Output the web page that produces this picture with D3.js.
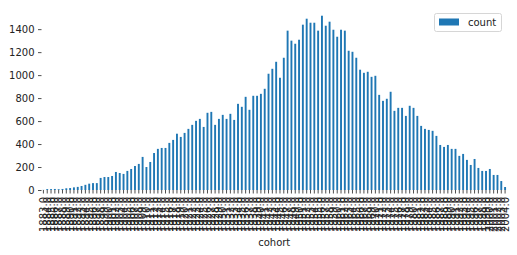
<!DOCTYPE html>
<html>
<head>
<meta charset="utf-8">
<script src="https://cdn.jsdelivr.net/npm/d3@7"></script>
<style>
  body { margin: 0; background: #fff; }
  text { font-family: "DejaVu Sans", sans-serif; }
</style>
</head>
<body>
<svg id="chart" width="517" height="255"></svg>
<script>
// cohort years (categories)
const cohorts = [
  1883, 1884, 1885, 1886, 1887, 1888, 1889, 1890, 1891, 1892, 1893, 1894, 1895, 1896, 1897, 1898, 1899,
  1900, 1901, 1902, 1903, 1904, 1905, 1906, 1907, 1908, 1909, 1910, 1911, 1912, 1913, 1914, 1915, 1916,
  1917, 1918, 1919, 1920, 1921, 1922, 1923, 1924, 1925, 1926, 1927, 1928, 1929, 1930, 1931, 1932, 1933,
  1934, 1935, 1936, 1937, 1938, 1939, 1940, 1941, 1942, 1943, 1944, 1945, 1946, 1947, 1948, 1949, 1950,
  1951, 1952, 1953, 1954, 1955, 1956, 1957, 1958, 1959, 1960, 1961, 1962, 1963, 1964, 1965, 1966, 1967,
  1968, 1969, 1970, 1971, 1972, 1973, 1974, 1975, 1976, 1977, 1978, 1979, 1980, 1981, 1982, 1983, 1984,
  1985, 1986, 1987, 1988, 1989, 1990, 1991, 1992, 1993, 1994, 1995, 1996, 1997, 1998, 1999, 2000, 2001,
  2002, 2003, 2004
];

// count per cohort
const counts = [
  1, 8, 8, 9, 7, 9, 15, 17, 23, 27, 35, 45, 55, 60, 60, 105, 113,
  113, 122, 157, 148, 140, 166, 183, 209, 227, 288, 200, 244, 322, 358, 366, 366, 410,
  436, 490, 462, 497, 532, 567, 602, 619, 549, 672, 680, 567, 619, 654, 619, 663, 610,
  750, 724, 811, 698, 820, 820, 837, 881, 1012, 1055, 1116, 977, 1151, 1387, 1300, 1273, 1308,
  1439, 1491, 1456, 1456, 1387, 1517, 1430, 1465, 1395, 1334, 1395, 1387, 1212, 1203, 1151, 1047,
  1020, 1029, 985, 994, 828, 776, 794, 855, 689, 715, 715, 645, 733, 715, 645, 558, 532,
  523, 515, 471, 392, 375, 392, 358, 358, 297, 314, 262, 218, 270, 192, 166, 166, 183,
  131, 131, 78, 26
];

const yTicks = [0, 200, 400, 600, 800, 1000, 1200, 1400];
const seriesName = "count";
const xTitle = "cohort";

const svg = d3.select("#chart");
const plotLeft = 41.5, plotRight = 507, plotTop = 7, plotBottom = 190;
const barColor = "#1f77b4";
const textColor = "#222";

const data = cohorts.map((c, i) => ({ cohort: c, count: counts[i] }));

const xScale = d3.scaleBand()
    .domain(cohorts)
    .range([plotLeft, plotRight])
    .paddingInner(0.5)
    .paddingOuter(0.25);

const yScale = d3.scaleLinear()
    .domain([0, d3.max(counts) * 1.05])
    .range([plotBottom, plotTop]);

// bars
svg.append("g")
    .selectAll("rect")
    .data(data)
    .join("rect")
    .attr("x", d => xScale(d.cohort))
    .attr("y", d => yScale(d.count))
    .attr("width", xScale.bandwidth())
    .attr("height", d => yScale(0) - yScale(d.count))
    .attr("fill", barColor);

// x axis
const xAxis = d3.axisBottom(xScale)
    .tickSize(3.5)
    .tickPadding(3.5)
    .tickFormat(d => d.toFixed(1));

const gx = svg.append("g")
    .attr("transform", "translate(0," + plotBottom + ")")
    .call(xAxis);
gx.select(".domain").remove();
gx.selectAll(".tick line").attr("stroke", textColor).attr("stroke-width", 0.8);
gx.selectAll(".tick text")
    .attr("transform", "rotate(-90)")
    .attr("x", -7)
    .attr("y", 0)
    .attr("dy", "0.35em")
    .attr("text-anchor", "end")
    .attr("fill", textColor)
    .style("font-size", "10px")
    .style("font-family", "DejaVu Sans");

// y axis
const yAxis = d3.axisLeft(yScale)
    .tickValues(yTicks)
    .tickFormat(d3.format("d"))
    .tickSize(3.5)
    .tickPadding(3.5);

const gy = svg.append("g")
    .attr("transform", "translate(" + plotLeft + ",0)")
    .call(yAxis);
gy.select(".domain").remove();
gy.selectAll(".tick line").attr("stroke", textColor).attr("stroke-width", 0.8);
gy.selectAll(".tick text")
    .attr("fill", textColor)
    .style("font-size", "10px")
    .style("font-family", "DejaVu Sans");

// x label
svg.append("text")
    .attr("x", (plotLeft + plotRight) / 2)
    .attr("y", 245.5)
    .attr("text-anchor", "middle")
    .attr("fill", textColor)
    .style("font-size", "10px")
    .text(xTitle);

// legend
const legend = svg.append("g").attr("transform", "translate(434.5,13.5)");
legend.append("rect")
    .attr("width", 67)
    .attr("height", 18)
    .attr("rx", 2)
    .attr("fill", "#fff")
    .attr("fill-opacity", 0.8)
    .attr("stroke", "#ccc")
    .attr("stroke-width", 0.8);
legend.append("rect")
    .attr("x", 4.5)
    .attr("y", 5)
    .attr("width", 20)
    .attr("height", 7)
    .attr("fill", barColor);
legend.append("text")
    .attr("x", 33.5)
    .attr("y", 12)
    .attr("fill", textColor)
    .style("font-size", "10px")
    .text(seriesName);
</script>
</body>
</html>
